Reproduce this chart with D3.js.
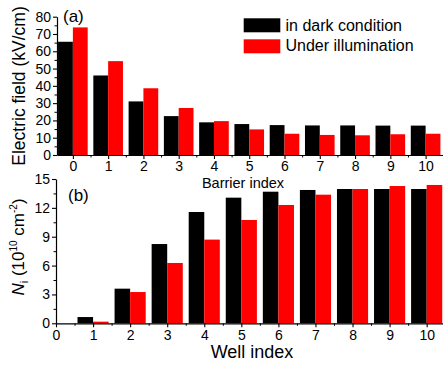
<!DOCTYPE html>
<html><head><meta charset="utf-8">
<script src="https://cdn.jsdelivr.net/npm/d3@7"></script>
<style>
body{margin:0;background:#fff;}
svg text{font-family:"Liberation Sans",Arial,sans-serif;fill:#000;}
</style></head>
<body><svg id="c" width="443" height="365"></svg>
<script>
const barrierIdx = [0,1,2,3,4,5,6,7,8,9,10];
const fieldDark  = [65.5,46,31,22.5,18.9,17.9,17.3,17.1,17.1,17,17];
const fieldLight = [73.8,54.3,38.6,27.2,19.6,14.8,12.3,11.6,11.4,12,12.3];
const wellIdx = [1,2,3,4,5,6,7,8,9,10];
const nDark  = [0.65,3.6,8.24,11.57,13.06,13.68,13.86,13.96,13.96,13.96];
const nLight = [0.17,3.25,6.27,8.7,10.74,12.3,13.37,13.96,14.27,14.38];
const seriesNames = ["in dark condition","Under illumination"];
const colors = ["#000000","#ff0000"];
const yTicksA = [0,10,20,30,40,50,60,70,80];
const yTicksB = [0,3,6,9,12,15];
const xTicksA = [0,1,2,3,4,5,6,7,8,9,10];
const xTicksB = [0,1,2,3,4,5,6,7,8,9,10];

const svg = d3.select("#c");
const bw = 0.42;

function styleAxis(g){
  g.select(".domain").attr("stroke","#000").attr("stroke-width",1.2);
  g.selectAll(".tick line").attr("stroke","#000").attr("stroke-width",1.1);
  g.selectAll(".tick text").style("font-size","14px").style("font-family","'Liberation Sans',Arial,sans-serif");
}

// Panel (a)
const xa = d3.scaleLinear().domain([-0.45,10.55]).range([57,445]);
const ya = d3.scaleLinear().domain([0,80]).range([155,16.7]);
const pa = svg.append("g");
[fieldDark, fieldLight].forEach((vals,s)=>{
  pa.selectAll(null).data(barrierIdx).enter().append("rect")
    .attr("x",d=>xa(s===0 ? d-bw : d))
    .attr("width",xa(bw)-xa(0))
    .attr("y",(d,i)=>ya(vals[i]))
    .attr("height",(d,i)=>ya(0)-ya(vals[i]))
    .attr("fill",colors[s]);
});
pa.append("g").attr("transform","translate(0,155)")
  .call(d3.axisBottom(xa).tickValues(d3.range(0.5,10.5,1)).tickSize(2.5).tickFormat(""))
  .call(g=>{g.select(".domain").remove();g.selectAll("line").attr("stroke","#000");});
pa.append("g").attr("transform","translate(57,0)")
  .call(d3.axisLeft(ya).tickValues(d3.range(5,80,10)).tickSize(2.5).tickFormat(""))
  .call(g=>{g.select(".domain").remove();g.selectAll("line").attr("stroke","#000");});
pa.append("g").attr("transform","translate(0,155)")
  .call(d3.axisBottom(xa).tickValues(xTicksA).tickSize(4).tickPadding(2).tickSizeOuter(0).tickFormat(d3.format("d")))
  .call(styleAxis);
pa.append("g").attr("transform","translate(57,0)")
  .call(d3.axisLeft(ya).tickValues(yTicksA).tickSize(4).tickPadding(2).tickSizeOuter(0))
  .call(styleAxis);
pa.append("text").attr("x",243).attr("y",187.5).attr("text-anchor","middle").style("font-size","14.5px").text("Barrier index");
pa.append("text").attr("transform","translate(24.5,86) rotate(-90)").attr("text-anchor","middle").style("font-size","17.5px").text("Electric field (kV/cm)");
pa.append("text").attr("x",63).attr("y",21.5).style("font-size","17px").text("(a)");

// legend
const leg = svg.append("g");
seriesNames.forEach((n,i)=>{
  leg.append("rect").attr("x",243.7).attr("y",18.3+i*21).attr("width",36.6).attr("height",14).attr("fill",colors[i]);
  leg.append("text").attr("x",285.5).attr("y",30.5+i*20).style("font-size","16px").text(n);
});

// Panel (b)
const xb = d3.scaleLinear().domain([0,10.5]).range([56,445.2]);
const yb = d3.scaleLinear().domain([0,15]).range([323.3,179]);
const pb = svg.append("g");
[nDark, nLight].forEach((vals,s)=>{
  pb.selectAll(null).data(wellIdx).enter().append("rect")
    .attr("x",d=>xb(s===0 ? d-bw : d))
    .attr("width",xb(bw)-xb(0))
    .attr("y",(d,i)=>yb(vals[i]))
    .attr("height",(d,i)=>yb(0)-yb(vals[i]))
    .attr("fill",colors[s]);
});
pb.append("g").attr("transform","translate(0,323.3)")
  .call(d3.axisBottom(xb).tickValues(d3.range(0.5,10.5,1)).tickSize(2.5).tickFormat(""))
  .call(g=>{g.select(".domain").remove();g.selectAll("line").attr("stroke","#000");});
pb.append("g").attr("transform","translate(56,0)")
  .call(d3.axisLeft(yb).tickValues(d3.range(1.5,15,3)).tickSize(2.5).tickFormat(""))
  .call(g=>{g.select(".domain").remove();g.selectAll("line").attr("stroke","#000");});
pb.append("g").attr("transform","translate(0,323.3)")
  .call(d3.axisBottom(xb).tickValues(xTicksB).tickSize(4).tickPadding(3).tickSizeOuter(0).tickFormat(d3.format("d")))
  .call(styleAxis);
pb.append("g").attr("transform","translate(56,0)")
  .call(d3.axisLeft(yb).tickValues(yTicksB).tickSize(4).tickPadding(2).tickSizeOuter(0))
  .call(styleAxis);
pb.append("text").attr("x",252).attr("y",358).attr("text-anchor","middle").style("font-size","18px").text("Well index");
const yl = pb.append("text").attr("transform","translate(24,247) rotate(-90)").attr("text-anchor","middle").style("font-size","17px");
yl.append("tspan").style("font-style","italic").text("N");
yl.append("tspan").attr("dy",4).style("font-size","11px").text("i");
yl.append("tspan").attr("dy",-4).text(" (10");
yl.append("tspan").attr("dy",-7).style("font-size","10px").text("10");
yl.append("tspan").attr("dy",7).text(" cm");
yl.append("tspan").attr("dy",-7).style("font-size","10px").text("-2");
yl.append("tspan").attr("dy",7).text(")");
pb.append("text").attr("x",68).attr("y",201).style("font-size","17px").text("(b)");
</script></body></html>
